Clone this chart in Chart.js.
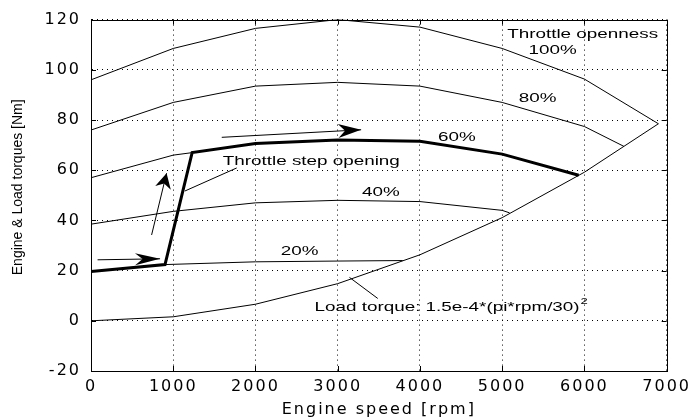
<!DOCTYPE html>
<html>
<head>
<meta charset="utf-8">
<script src="https://cdn.jsdelivr.net/npm/chart.js@4"></script>
<style>
html,body{margin:0;padding:0;background:#fff}
#wrap{width:693px;height:419px}
</style>
</head>
<body>
<div id="wrap"><canvas id="c"></canvas></div>
<script>
// couple moteur pour chaque ouverture papillon + couple de charge

var xTicks=[0,1000,2000,3000,4000,5000,6000,7000]
var yTicks=[-20,0,20,40,60,80,100,120]

var rpm100=[0,1000,2000,3000,4000,5000,6000,6900]
var torque100=[96,108.5,116.5,120,117,108.5,96.3,78.5]
var rpm80=[0,1000,2000,3000,4000,5000,6000,6480]
var torque80=[76,87,93.5,95,93.5,87,77.4,69.5]
var rpm60=[0,1000,1230,2000,3000,4000,5000,5930]
var torque60=[57,66,67,70.6,72,71.5,66.4,58]
var rpm40=[0,1000,2000,3000,4000,5000,5090]
var torque40=[38.5,43.6,47,48,47.5,44,43]
var rpm20=[0,900,2000,3000,3790]
var torque20=[19.6,22.4,23.5,23.8,24]
var rpmLoad=[0,1000,2000,3000,4000,5000,6000,6900]
var torqueLoad=[0,1.6,6.6,14.8,26.3,41.1,59.2,78.5]
// trajet du point de fonctionnement : 20% -> ouverture brusque -> 60%
var rpmPath=[0,900,1230,2000,3000,4000,5000,5930]
var torquePath=[19.6,22.4,67,70.6,72,71.5,66.4,58]

// annotations (en unites du graphe)
var labelTexts=["Throttle openness","100%","80%","60%","40%","20%","Throttle step opening","Load torque: 1.5e-4*(pi*rpm/30)"]
var labelRpm=[5061,5613,5431,4448,3526,2536,1602,2718]
var labelTorque=[114.2,107.8,88.5,73,51.2,27.8,63.6,5.3]
var labelAlign=["left","center","center","center","center","center","left","left"]

var arrowFrom=[[80,24.3],[737,34.2],[1590,73.1]]
var arrowTo=[[840,24.7],[919,58.8],[3285,76.1]]
var leaderFrom=[[1141,51.7],[3143,17.3]]
var leaderTo=[[1772,60.9],[3487,8.9]]

function pts(xs,ys){
    var out=[]
    for(var i=0;i<xs.length;i++){ out.push({x:xs[i],y:ys[i]}) }
    return out
}

function serie(label,xs,ys,w){
    return {label:label,data:pts(xs,ys),showLine:true,borderColor:'#000',borderWidth:w,pointRadius:0,fill:false,tension:0}
}

var SX=1.45 // le texte de la figure est etire horizontalement

function stretchText(ctx,txt,x,y,align,size){
    ctx.save()
    ctx.letterSpacing='0px'
    ctx.font=size+'px "Liberation Sans", Arial, sans-serif'
    ctx.textBaseline='middle'
    ctx.textAlign='left'
    ctx.fillStyle='#000'
    var w=ctx.measureText(txt).width*SX
    var left=align=='left'?x:x-w/2
    ctx.translate(left,y)
    ctx.scale(SX,1)
    ctx.fillText(txt,0,0)
    ctx.restore()
    return left+w
}

function arrowHead(ctx,x1,y1,x2,y2,len,half){
    var a=Math.atan2(y2-y1,x2-x1)
    var c=Math.cos(a),s=Math.sin(a)
    var bx=x2-len*c,by=y2-len*s
    var nx=x2-len*0.7*c,ny=y2-len*0.7*s
    ctx.beginPath()
    ctx.moveTo(x2,y2)
    ctx.lineTo(bx-half*s,by+half*c)
    ctx.lineTo(nx,ny)
    ctx.lineTo(bx+half*s,by-half*c)
    ctx.closePath()
    ctx.fill()
}

const bgPlugin={
    id:'bg',
    beforeDraw:(chart)=>{
        const ctx=chart.ctx
        ctx.save()
        ctx.fillStyle='#fff'
        ctx.fillRect(0,0,chart.width,chart.height)
        ctx.restore()
        ctx.letterSpacing='2px'
    }
}

const annoPlugin={
    id:'anno',
    afterDraw:(chart)=>{
        const ctx=chart.ctx
        const xs=chart.scales.x, ys=chart.scales.y
        const a=chart.chartArea
        ctx.save()
        ctx.letterSpacing='0px'
        ctx.strokeStyle='#000'
        ctx.fillStyle='#000'
        ctx.lineWidth=1
        // cadre + graduations vers l'interieur
        ctx.strokeRect(Math.round(a.left)+0.5,Math.round(a.top)+0.5,Math.round(a.right-a.left),Math.round(a.bottom-a.top))
        ctx.beginPath()
        xTicks.forEach(v=>{
            var px=Math.round(xs.getPixelForValue(v))+0.5
            ctx.moveTo(px,a.bottom); ctx.lineTo(px,a.bottom-5)
            ctx.moveTo(px,a.top); ctx.lineTo(px,a.top+5)
        })
        yTicks.forEach(v=>{
            var py=Math.round(ys.getPixelForValue(v))+0.5
            ctx.moveTo(a.left,py); ctx.lineTo(a.left+5,py)
            ctx.moveTo(a.right,py); ctx.lineTo(a.right-5,py)
        })
        ctx.stroke()

        // fleches
        var heads=[[25,6],[15,8],[23,7]]
        for(var i=0;i<arrowFrom.length;i++){
            var x1=xs.getPixelForValue(arrowFrom[i][0]),y1=ys.getPixelForValue(arrowFrom[i][1])
            var x2=xs.getPixelForValue(arrowTo[i][0]),y2=ys.getPixelForValue(arrowTo[i][1])
            ctx.beginPath(); ctx.moveTo(x1,y1); ctx.lineTo(x2,y2); ctx.stroke()
            arrowHead(ctx,x1,y1,x2,y2,heads[i][0],heads[i][1])
        }
        for(var i=0;i<leaderFrom.length;i++){
            ctx.beginPath()
            ctx.moveTo(xs.getPixelForValue(leaderFrom[i][0]),ys.getPixelForValue(leaderFrom[i][1]))
            ctx.lineTo(xs.getPixelForValue(leaderTo[i][0]),ys.getPixelForValue(leaderTo[i][1]))
            ctx.stroke()
        }

        // textes
        var endX=0,endY=0
        for(var i=0;i<labelTexts.length;i++){
            var px=xs.getPixelForValue(labelRpm[i]), py=ys.getPixelForValue(labelTorque[i])
            endX=stretchText(ctx,labelTexts[i],px,py,labelAlign[i],13)
            endY=py
        }
        stretchText(ctx,"2",endX+1,endY-6,'left',9)

        // titre axe y
        ctx.translate(18,(a.top+a.bottom)/2-8)
        ctx.rotate(-Math.PI/2)
        ctx.font='14px "Liberation Sans", Arial, sans-serif'
        ctx.textAlign='center'
        ctx.textBaseline='middle'
        ctx.fillText("Engine & Load torques [Nm]",0,0)
        ctx.restore()
    }
}

var tickFont={family:'"DejaVu Sans", sans-serif',size:16}

var config={
    type:'scatter',
    data:{
        datasets:[
            serie('100%',rpm100,torque100,1),
            serie('80%',rpm80,torque80,1),
            serie('60%',rpm60,torque60,1),
            serie('40%',rpm40,torque40,1),
            serie('20%',rpm20,torque20,1),
            serie('Load torque',rpmLoad,torqueLoad,1),
            serie('Operating point',rpmPath,torquePath,3)
        ]
    },
    options:{
        responsive:true,
        maintainAspectRatio:false,
        animation:false,
        layout:{padding:{left:0,top:11,right:25,bottom:0}},
        plugins:{legend:{display:false},tooltip:{enabled:false}},
        scales:{
            x:{
                type:'linear',min:0,max:7000,
                afterBuildTicks:(s)=>{ s.ticks=xTicks.map(v=>({value:v})) },
                afterFit:(s)=>{ s.height=48 },
                grid:{color:'#000',lineWidth:1,drawTicks:false},
                border:{display:true,color:'#000',width:1,dash:[1,4]},
                ticks:{color:'#000',font:tickFont,padding:6,maxRotation:0,autoSkip:false,callback:(v)=>String(v)},
                title:{display:true,text:'Engine speed [rpm]',color:'#000',font:tickFont,padding:{top:0,bottom:0}}
            },
            y:{
                type:'linear',min:-20,max:120,
                afterBuildTicks:(s)=>{ s.ticks=yTicks.map(v=>({value:v})) },
                afterFit:(s)=>{ s.width=91 },
                grid:{color:'#000',lineWidth:1,drawTicks:false},
                border:{display:true,color:'#000',width:1,dash:[1,4]},
                ticks:{color:'#000',font:tickFont,padding:10,autoSkip:false,callback:(v)=>String(v)}
            }
        }
    },
    plugins:[bgPlugin,annoPlugin]
}

var chart=new Chart(document.getElementById('c'),config)
</script>
</body>
</html>
